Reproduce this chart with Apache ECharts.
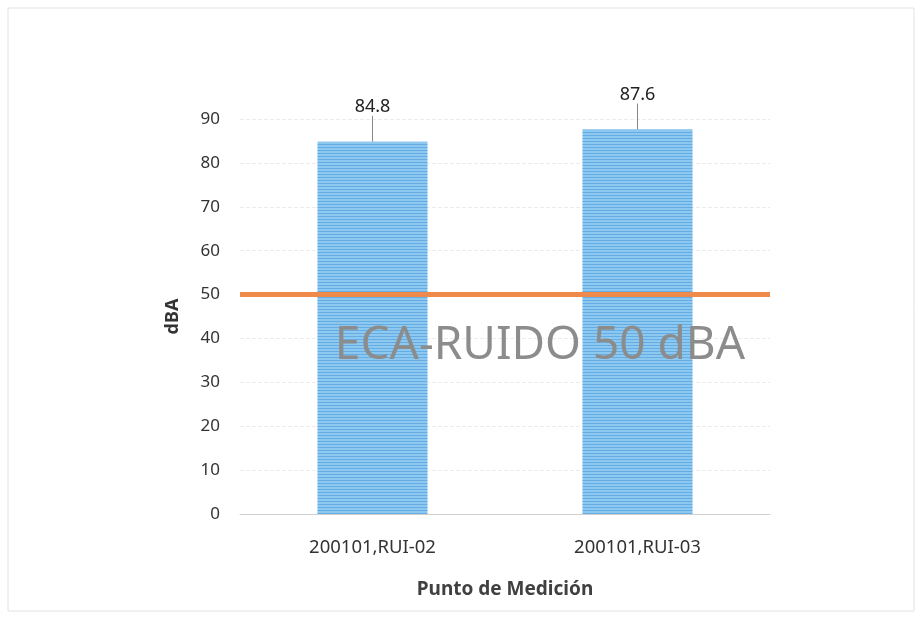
<!DOCTYPE html>
<html>
<head>
<meta charset="utf-8">
<script src="https://cdn.jsdelivr.net/npm/echarts@6/dist/echarts.min.js"></script>
<style>
  html, body { margin: 0; padding: 0; background: #fff; }
  #chart { width: 922px; height: 619px; }
</style>
</head>
<body>
<div id="chart"></div>
<script>
var puntos = ['200101,RUI-02', '200101,RUI-03'];
var niveles = [84.8, 87.6];
var limiteECA = 50;
var yTicks = { min: 0, max: 90, interval: 10 };

var font = '"Noto Sans", "Open Sans", sans-serif';
var myChart = echarts.init(document.getElementById('chart'));
var option = {
  backgroundColor: '#fff',
  animation: false,
  grid: { left: 240, right: 152, top: 119, bottom: 105 },
  graphic: [
    {
      type: 'rect',
      shape: { x: 8, y: 8, width: 906, height: 603 },
      style: { fill: 'none', stroke: '#e2e2e2', lineWidth: 1 },
      silent: true
    },
    {
      type: 'text',
      x: 540,
      y: 346,
      z: 10,
      style: {
        text: 'ECA-RUIDO 50 dBA',
        font: '46px ' + font,
        fill: '#8c8c8c',
        align: 'center',
        verticalAlign: 'middle'
      }
    }
  ],
  xAxis: {
    type: 'category',
    data: puntos,
    name: 'Punto de Medición',
    nameLocation: 'middle',
    nameGap: 66,
    nameTextStyle: { fontFamily: font, fontSize: 19, fontWeight: 'bold', color: '#404040' },
    axisLine: { lineStyle: { color: '#d0d0d0', width: 1 } },
    axisTick: { show: false },
    axisLabel: { fontFamily: font, fontSize: 18.5, color: '#333', margin: 24 }
  },
  yAxis: {
    type: 'value',
    min: yTicks.min,
    max: yTicks.max,
    interval: yTicks.interval,
    name: 'dBA',
    nameLocation: 'middle',
    nameGap: 58,
    nameTextStyle: { fontFamily: font, fontSize: 18, fontWeight: 'bold', color: '#333' },
    axisLine: { show: false },
    axisTick: { show: false },
    axisLabel: { fontFamily: font, fontSize: 17, color: '#333', margin: 20 },
    splitLine: { lineStyle: { color: '#ececec', type: 'dashed' } }
  },
  series: [{
    type: 'bar',
    data: niveles,
    barWidth: '41.5%',
    itemStyle: {
      color: '#8cc8f0',
      decal: {
        symbol: 'rect',
        color: 'rgba(70,150,215,0.55)',
        dashArrayX: [1, 0],
        dashArrayY: [1, 2],
        rotation: 0
      }
    },
    label: {
      show: true,
      position: 'top',
      distance: 4,
      fontFamily: font,
      fontSize: 18,
      color: '#222',
      formatter: function (p) { return p.value.toFixed(1); }
    },
    labelLayout: { dy: -22 },
    labelLine: { show: true, lineStyle: { color: '#888', width: 1 } },
    markLine: {
      silent: true,
      symbol: 'none',
      label: { show: false },
      lineStyle: { color: '#f08a4b', width: 5, type: 'solid' },
      data: [{ yAxis: limiteECA }]
    }
  }]
};
myChart.setOption(option);
</script>
</body>
</html>
